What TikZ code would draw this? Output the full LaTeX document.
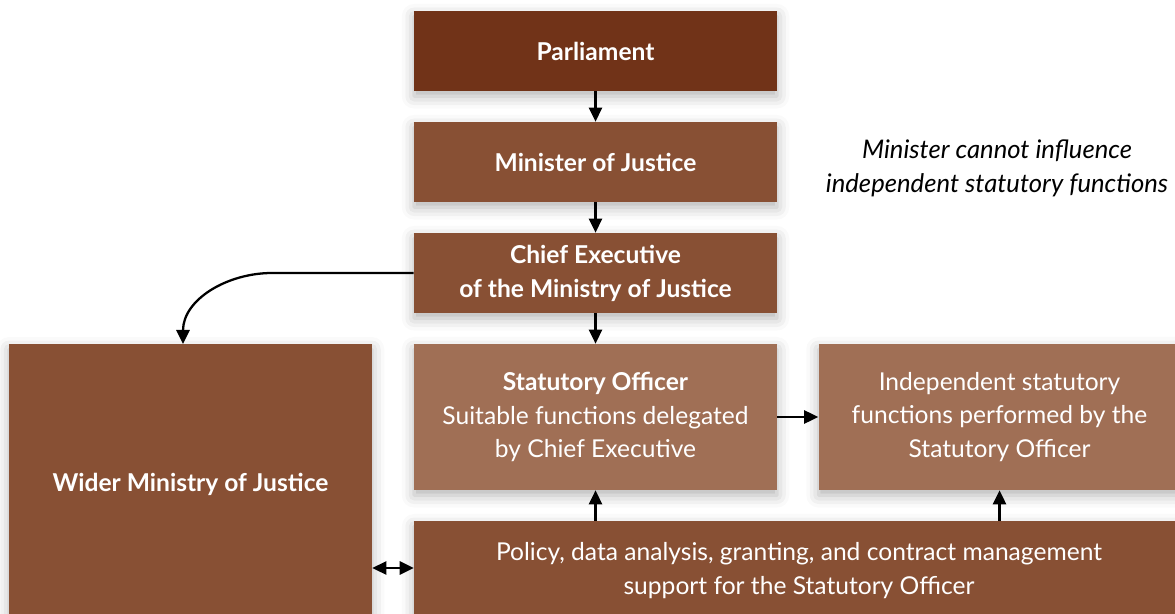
\documentclass[tikz,border=0pt]{standalone}
\usepackage{fontspec}
\setmainfont{Lato}
\usetikzlibrary{positioning,arrows.meta,calc,shadows.blur}
\definecolor{parlBrown}{HTML}{713318}
\definecolor{midBrown}{HTML}{885034}
\definecolor{softBrown}{HTML}{A06F55}

\begin{document}
\begin{tikzpicture}[
    x=0.02cm, y=-0.02cm,
    orgBox/.style={rectangle, fill=midBrown, text=white, align=center, inner sep=4pt,
        font=\fontsize{14}{19.3}\selectfont,
        blur shadow={shadow xshift=0pt, shadow yshift=-3pt, shadow blur radius=7pt, shadow opacity=30}},
    topBox/.style={orgBox, fill=parlBrown},
    softBox/.style={orgBox, fill=softBrown},
    flow/.style={-{Triangle[length=8pt,width=7.5pt]}, line width=1.3pt, black},
    noteText/.style={font=\fontsize{14.6}{19.3}\selectfont\itshape, align=center}
]
    \useasboundingbox (0,0) rectangle (1175,614);

    % main chain
    \node[topBox, minimum width=7.26cm, minimum height=1.6cm] (parl) at (595.5,51) {\textbf{Parliament}};
    \node[orgBox, minimum width=7.26cm, minimum height=1.6cm] (minister) at (595.5,162) {\textbf{Minister of Justice}};
    \node[orgBox, minimum width=7.26cm, minimum height=1.6cm] (chief) at (595.5,273) {\textbf{Chief Executive}\\\textbf{of the Ministry of Justice}};
    \node[softBox, minimum width=7.26cm, minimum height=2.92cm] (officer) at (595.5,417) {\textbf{Statutory Officer}\\Suitable functions delegated\\by Chief Executive};
    \node[softBox, minimum width=7.24cm, minimum height=2.92cm] (indep) at (999.5,417) {Independent statutory\\functions performed by the\\Statutory Officer};
    \node[orgBox, minimum width=15.4cm, minimum height=2cm] (support) at (799,571) {Policy, data analysis, granting, and contract management\\support for the Statutory Officer};
    \node[orgBox, minimum width=7.26cm, minimum height=5.6cm] (wider) at (190.5,484) {\textbf{Wider Ministry of Justice}};

    \node[noteText] (note) at (997,168) {Minister cannot influence\\independent statutory functions};

    % connectors
    \draw[flow] (parl) -- (minister);
    \draw[flow] (minister) -- (chief);
    \draw[flow] (chief) -- (officer);
    \draw[flow] (officer) -- (indep);
    \draw[flow] (support.north -| officer.south) -- (officer.south);
    \draw[flow] (support.north -| indep.south) -- (indep.south);
    \coordinate (bend) at (272,273);
    \coordinate (widerIn) at (183,344);
    \draw[flow] (chief.west) -- (bend) to[out=180, in=90] (widerIn);
    \draw[flow, {Triangle[length=8pt,width=7.5pt]}-{Triangle[length=8pt,width=7.5pt]}]
        (wider.east |- 0,568) -- (support.west |- 0,568);
\end{tikzpicture}
\end{document}
